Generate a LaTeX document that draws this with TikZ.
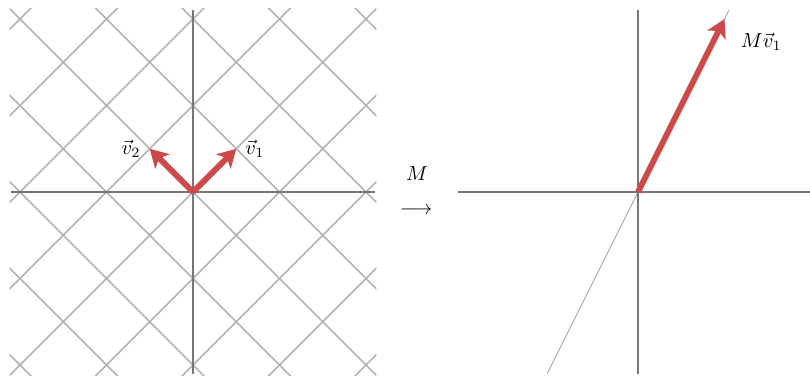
\documentclass[tikz,border=0pt]{standalone}
\usepackage{amsmath,amssymb}
\usepackage{xcolor}
\usepackage{tikz}
\usetikzlibrary{arrows.meta,positioning}
\definecolor{vecred}{RGB}{205,72,72}
\definecolor{gridgray}{RGB}{178,178,178}
\definecolor{axisgray}{RGB}{118,118,118}

\begin{document}
\begin{tikzpicture}[
      x=1.5cm, y=1.5cm,
      node distance=1pt,
      grid/.style={gridgray, line width=0.75pt},
      axis/.style={axisgray, line width=1.4pt},
      span/.style={gridgray, line width=0.5pt},
      vec/.style={vecred, line width=2.9pt,
                  -{Stealth[length=3.1mm, width=3.5mm, inset=0.8mm]}}
    ]
    \useasboundingbox (-2.231,-2.139) rectangle (7.133,2.220);

    % left: rotated grid and basis vectors
    \begin{scope}
      \clip (-2.12,-2.12) rectangle (2.12,2.12);
      \foreach \k in {-4,...,4} {
        \draw[grid] (\k-3,3) -- (\k+3,-3);
        \draw[grid] (\k-3,-3) -- (\k+3,3);
      }
    \end{scope}
    \coordinate (O) at (0,0);
    \coordinate (xl) at (-2.1,0);
    \coordinate (xr) at (2.1,0);
    \coordinate (yb) at (0,-2.1);
    \coordinate (yt) at (0,2.1);
    \draw[axis] (xl) -- (xr);
    \draw[axis] (yb) -- (yt);

    \coordinate (v1) at (0.5,0.5);
    \coordinate (v2) at (-0.5,0.5);
    \draw[vec] (O) -- (v1);
    \draw[vec] (O) -- (v2);
    \node[right=of v1] (lv1) {$\vec{v}_1$};
    \node[left=of v2] (lv2) {$\vec{v}_2$};

    % the map
    \node (map) at (2.58,-0.22) {$\longrightarrow$};
    \node (mapM) at (2.59,0.21) {$M$};

    % right: image of v1
    \coordinate (O2) at (5.145,0);
    \coordinate (xl2) at (3.064,0);
    \coordinate (xr2) at (7.25,0);
    \coordinate (yb2) at (5.145,-2.1);
    \coordinate (yt2) at (5.145,2.1);
    \coordinate (lb) at (4.095,-2.1);
    \coordinate (lt) at (6.195,2.1);
    \draw[span] (lb) -- (lt);
    \draw[axis] (xl2) -- (xr2);
    \draw[axis] (yb2) -- (yt2);

    \coordinate (Mv1) at (6.145,2);
    \draw[vec] (O2) -- (Mv1);
    \node (lMv1) at (6.57,1.74) {$M\vec{v}_1$};
  \end{tikzpicture}
\end{document}
